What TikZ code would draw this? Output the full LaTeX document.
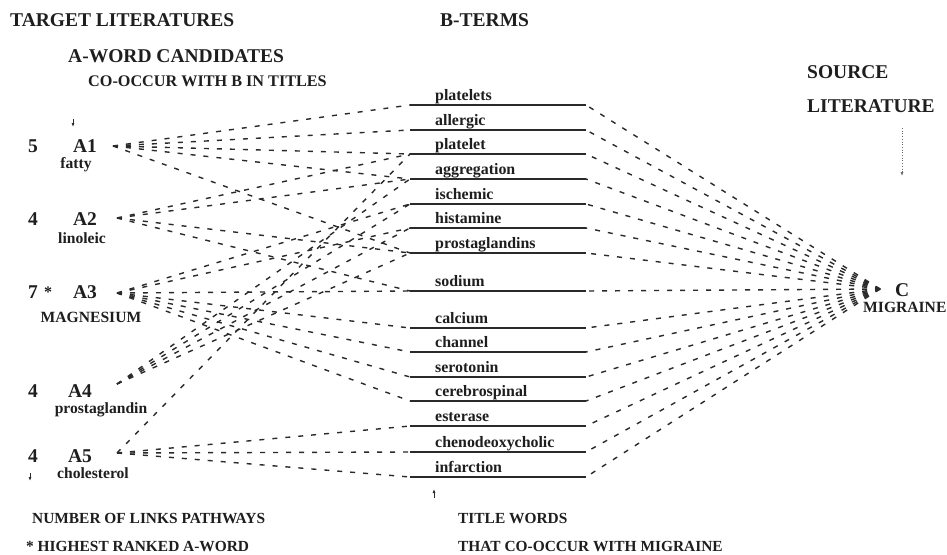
\documentclass[tikz,border=0pt]{standalone}
\usepackage{fontspec}
\setmainfont{Liberation Serif}
\usetikzlibrary{arrows.meta}
\definecolor{ink}{HTML}{1E1E1E}
\definecolor{ln}{HTML}{2A2A2A}
\tikzset{
  big/.style={inner sep=0pt, anchor=base west, text=ink, font=\fontsize{19.5}{22}\selectfont\bfseries},
  mid/.style={inner sep=0pt, anchor=base west, text=ink, font=\fontsize{16.2}{19}\selectfont\bfseries},
  sub/.style={inner sep=0pt, anchor=base, text=ink, font=\fontsize{15.6}{18}\selectfont\bfseries},
  blab/.style={inner sep=0pt, anchor=base west, text=ink, font=\fontsize{15.9}{18}\selectfont\bfseries},
  foot/.style={inner sep=0pt, anchor=base west, text=ink, font=\fontsize{15.4}{18}\selectfont\bfseries},
  bline/.style={draw=ln, line width=1.4pt},
  dline/.style={draw=ln, line width=1.4pt, dash pattern=on 5pt off 8pt},
  tick/.style={draw=ln, line width=0.8pt, -{Latex[length=4pt,width=3pt]}}
}
\begin{document}
\begin{tikzpicture}[x=1pt,y=-1pt]
\useasboundingbox (0,0) rectangle (947,554);
\fill[white] (0,0) rectangle (947,554);

% headings
\node[big] (h1) at (10,27) {TARGET LITERATURES};
\node[big] (h2) at (68,62) {A-WORD CANDIDATES};
\node[mid] (h3) at (88,86) {CO-OCCUR WITH B IN TITLES};
\node[big] (h4) at (440,27) {B-TERMS};
\node[big] (h5) at (807,78) {SOURCE};
\node[big] (h6) at (807,112) {LITERATURE};

% A nodes
\node[big, anchor=base] (nA1) at (85,152) {A1};
\node[big, anchor=base] (nA2) at (85,225) {A2};
\node[big, anchor=base] (nA3) at (85,298) {A3};
\node[big, anchor=base] (nA4) at (80,397) {A4};
\node[big, anchor=base] (nA5) at (80,462) {A5};
\node[big, anchor=base] (k1) at (33,152) {5};
\node[big, anchor=base] (k2) at (33,225) {4};
\node[big, anchor=base] (k3) at (33,298) {7};
\node[big, anchor=base] (k4) at (33,397) {4};
\node[big, anchor=base] (k5) at (33,462) {4};
\node[sub, font=\fontsize{16}{18}\selectfont\bfseries] (st1) at (48,297) {*};
\node[sub] (s1) at (76,168) {fatty};
\node[sub] (s2) at (82,243) {linoleic};
\node[sub] (s3) at (91,322) {MAGNESIUM};
\node[sub] (s4) at (101,413) {prostaglandin};
\node[sub] (s5) at (93,478) {cholesterol};

% C node
\node[big] (nC) at (895,296) {C};
\node[sub, anchor=base west] (sC) at (863,312) {MIGRAINE};
\coordinate (cp) at (880,289);

% A connector origins
\coordinate (a1) at (113,146);
\coordinate (a2) at (117,218);
\coordinate (a3) at (117,293);
\coordinate (a4) at (117,384);
\coordinate (a5) at (117,453);

% B terms
\foreach \n/\y/\t in {1/105/platelets,2/130/allergic,3/154/platelet,4/179/aggregation,
  5/204/ischemic,6/228/histamine,7/253/prostaglandins,8/291/sodium,9/328/calcium,
  10/352/channel,11/377/serotonin,12/401/cerebrospinal,13/426/esterase,
  14/452/chenodeoxycholic,15/477/infarction}{
  \coordinate (L\n) at (410,\y);
  \coordinate (R\n) at (586,\y);
  \draw[bline] (L\n) -- (R\n);
  \node[blab] (T\n) at (435,\y-5) {\t};
  \draw[dline] (cp) -- (R\n);
}

% A to B links
\foreach \a/\b in {1/1,1/2,1/3,1/4,1/7,
                   2/3,2/4,2/7,2/8,
                   3/5,3/6,3/8,3/9,3/10,3/11,3/12,
                   4/4,4/5,4/6,4/7,
                   5/3,5/13,5/14,5/15}{
  \draw[dline] (a\a) -- (L\b);
}

% small markers
\coordinate (m1a) at (73,119); \coordinate (m1b) at (73,127);
\draw[tick] (m1a) -- (m1b);
\coordinate (m2a) at (30,473); \coordinate (m2b) at (30,481);
\draw[tick] (m2a) -- (m2b);
\coordinate (m3a) at (434,498); \coordinate (m3b) at (434,489);
\draw[tick] (m3a) -- (m3b);
\coordinate (m4a) at (902,128); \coordinate (m4b) at (902,176);
\draw[draw=ln!70, line width=0.7pt, dotted, -{Latex[length=4pt,width=3pt]}] (m4a) -- (m4b);

% footers
\node[foot] (f1) at (32,523) {NUMBER OF LINKS PATHWAYS};
\node[foot] (f2) at (26,551) {* HIGHEST RANKED A-WORD};
\node[foot] (f3) at (458,523) {TITLE WORDS};
\node[foot] (f4) at (458,551) {THAT CO-OCCUR WITH MIGRAINE};
\end{tikzpicture}
\end{document}
